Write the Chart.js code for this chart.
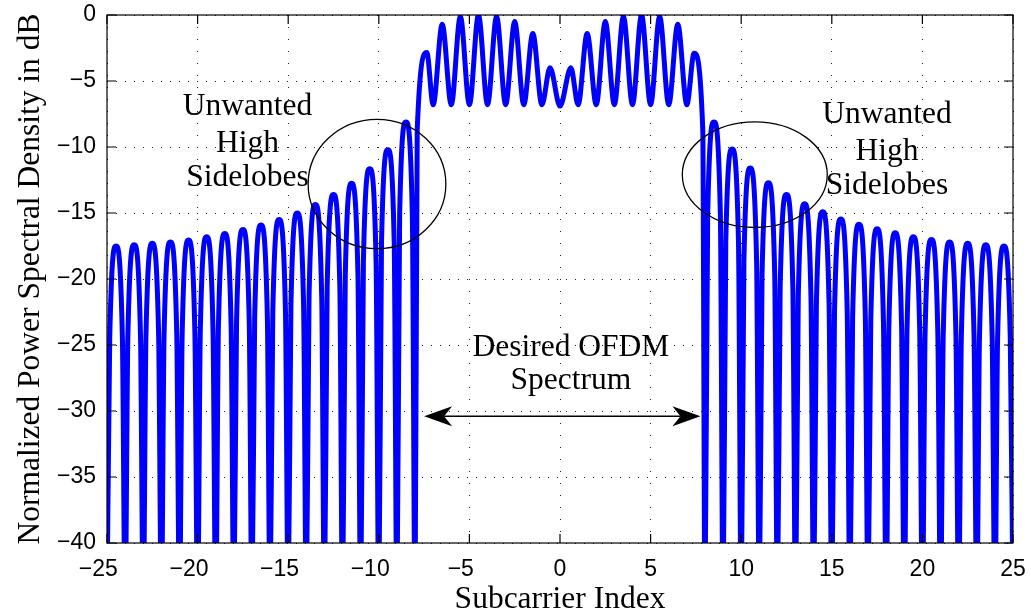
<!DOCTYPE html>
<html>
<head>
<meta charset="utf-8">
<script src="https://cdn.jsdelivr.net/npm/chart.js@4.4.1/dist/chart.umd.min.js"></script>
<style>
  html, body { margin: 0; padding: 0; background: #fff; }
  canvas { display: block; }
</style>
</head>
<body>
<canvas id="psd" width="1031" height="616"></canvas>
<script>
// axis ticks
const xTicks = [-25, -20, -15, -10, -5, 0, 5, 10, 15, 20, 25];
const yTicks = [0, -5, -10, -15, -20, -25, -30, -35, -40];

// sidelobes left of the band: a null at every integer, a peak half way
const leftNullX = [-25, -24, -23, -22, -21, -20, -19, -18, -17, -16, -15, -14, -13, -12, -11, -10, -9, -8];
const leftPeakX = [-24.5, -23.5, -22.5, -21.5, -20.5, -19.5, -18.5, -17.5, -16.5, -15.5, -14.5, -13.5, -12.5, -11.5, -10.5, -9.5, -8.5];
const leftPeakDb = [-17.5, -17.4, -17.3, -17.2, -17.05, -16.8, -16.55, -16.25, -15.9, -15.5, -15.0, -14.35, -13.6, -12.75, -11.65, -10.2, -8.1];

// the occupied band
const bandPeakX = [-7.35, -6.5, -5.5, -4.5, -3.5, -2.5, -1.5, -0.55, 0.6, 1.5, 2.5, 3.5, 4.5, 5.5, 6.5, 7.4];
const bandPeakDb = [-2.85, -0.7, -0.1, 0, -0.1, -0.5, -1.4, -4.0, -4.0, -1.4, -0.5, -0.1, 0, -0.1, -0.7, -2.9];
const bandDipX = [-7, -6, -5, -4, -3, -2, -1, 0, 1, 2, 3, 4, 5, 6, 7];
const bandDipDb = [-6.8, -6.8, -6.8, -6.8, -6.8, -6.8, -6.8, -6.9, -6.8, -6.8, -6.8, -6.8, -6.8, -6.8, -6.8];
const edgeFlankX = [-7.88, 7.88];
const edgeFlankDb = [-8.7, -8.7];

// sidelobes right of the band
const rightPeakX = [8.5, 9.5, 10.5, 11.5, 12.5, 13.5, 14.5, 15.5, 16.5, 17.5, 18.5, 19.5, 20.5, 21.5, 22.5, 23.5, 24.5];
const rightPeakDb = [-8.1, -10.15, -11.6, -12.7, -13.6, -14.3, -14.9, -15.45, -15.85, -16.2, -16.5, -16.8, -17.0, -17.2, -17.3, -17.4, -17.5];
const rightNullX = [8, 9, 10, 11, 12, 13, 14, 15, 16, 17, 18, 19, 20, 21, 22, 23, 24, 25];

const nullDb = -45;      // nulls drop off the bottom of the plot
const flankGap = 0.35;   // lobe flank: 0.35 from the peak ...
const flankDrop = 7;     // ... it is about 7 dB down

const spectrum = [];
leftNullX.concat(rightNullX).forEach(x => spectrum.push({ x: x, y: nullDb }));
leftPeakX.concat(rightPeakX).forEach((x, i) => {
  const p = leftPeakDb.concat(rightPeakDb)[i];
  spectrum.push({ x: x, y: p });
  spectrum.push({ x: x - flankGap, y: p - flankDrop });
  spectrum.push({ x: x + flankGap, y: p - flankDrop });
});
bandPeakX.forEach((x, i) => spectrum.push({ x: x, y: bandPeakDb[i] }));
bandDipX.forEach((x, i) => spectrum.push({ x: x, y: bandDipDb[i] }));
edgeFlankX.forEach((x, i) => spectrum.push({ x: x, y: edgeFlankDb[i] }));
spectrum.sort((a, b) => a.x - b.x);

// annotations, in data units
const sideEllipses = [
  { cx: -10.1, cy: -12.8, rx: 3.8, ry: 4.9 },
  { cx: 10.75, cy: -12.1, rx: 4.0, ry: 4.0 }
];
const notes = [
  { x: -17.25, y: [-7.6, -10.35, -12.95], lines: ['Unwanted', 'High', 'Sidelobes'] },
  { x: 18.05, y: [-8.2, -10.95, -13.55], lines: ['Unwanted', 'High', 'Sidelobes'] },
  { x: 0.6, y: [-25.85, -28.3], lines: ['Desired OFDM', 'Spectrum'] }
];
const bandArrow = { from: -7.5, to: 7.75, y: -30.4 };

const serif = '"Liberation Serif", "Times New Roman", serif';
const sans = '"Liberation Sans", Arial, sans-serif';

function fmtX(v) {
  return v < 0 ? '\u2212' + (-v) + '\u2002\u2005' : String(v);
}
function fmtY(v) {
  return v < 0 ? '\u2212' + (-v) : String(v);
}

function arrowHead(ctx, tipX, tipY, dir) {
  ctx.beginPath();
  ctx.moveTo(tipX, tipY);
  ctx.lineTo(tipX - dir * 28, tipY - 10);
  ctx.lineTo(tipX - dir * 20, tipY);
  ctx.lineTo(tipX - dir * 28, tipY + 10);
  ctx.closePath();
  ctx.fill();
}

const decor = {
  id: 'decor',
  afterDatasetsDraw(chart) {
    const ctx = chart.ctx;
    const a = chart.chartArea;
    const x = chart.scales.x, y = chart.scales.y;
    ctx.save();
    ctx.strokeStyle = '#000';
    ctx.fillStyle = '#000';

    // box with inward ticks
    ctx.lineWidth = 1.2;
    ctx.strokeRect(a.left, a.top, a.right - a.left, a.bottom - a.top);
    ctx.beginPath();
    xTicks.forEach(v => {
      const px = x.getPixelForValue(v);
      ctx.moveTo(px, a.bottom); ctx.lineTo(px, a.bottom - 9);
      ctx.moveTo(px, a.top); ctx.lineTo(px, a.top + 9);
    });
    yTicks.forEach(v => {
      const py = y.getPixelForValue(v);
      ctx.moveTo(a.left, py); ctx.lineTo(a.left + 9, py);
      ctx.moveTo(a.right, py); ctx.lineTo(a.right - 9, py);
    });
    ctx.stroke();

    // ellipses round the sidelobes
    ctx.lineWidth = 1.3;
    sideEllipses.forEach(e => {
      const cx = x.getPixelForValue(e.cx), cy = y.getPixelForValue(e.cy);
      const rx = Math.abs(x.getPixelForValue(e.cx + e.rx) - cx);
      const ry = Math.abs(y.getPixelForValue(e.cy + e.ry) - cy);
      ctx.beginPath();
      ctx.ellipse(cx, cy, rx, ry, 0, 0, 2 * Math.PI);
      ctx.stroke();
    });

    // double arrow across the band
    const x0 = x.getPixelForValue(bandArrow.from);
    const x1 = x.getPixelForValue(bandArrow.to);
    const ay = y.getPixelForValue(bandArrow.y);
    ctx.lineWidth = 1.5;
    ctx.beginPath();
    ctx.moveTo(x0 + 20, ay); ctx.lineTo(x1 - 20, ay);
    ctx.stroke();
    arrowHead(ctx, x0, ay, -1);
    arrowHead(ctx, x1, ay, 1);

    // text notes
    ctx.font = '31.5px ' + serif;
    ctx.textAlign = 'center';
    ctx.textBaseline = 'alphabetic';
    notes.forEach(n => {
      n.lines.forEach((t, i) => ctx.fillText(t, x.getPixelForValue(n.x), y.getPixelForValue(n.y[i])));
    });
    ctx.restore();
  }
};

new Chart(document.getElementById('psd'), {
  type: 'line',
  data: {
    datasets: [{
      data: spectrum,
      borderColor: '#0000ff',
      borderWidth: 5,
      pointRadius: 0,
      fill: false,
      cubicInterpolationMode: 'monotone',
      borderJoinStyle: 'round',
      borderCapStyle: 'round'
    }]
  },
  options: {
    responsive: false,
    animation: false,
    devicePixelRatio: 1,
    layout: { padding: { top: 15, right: 18, left: 0, bottom: 0 } },
    plugins: { legend: { display: false }, tooltip: { enabled: false } },
    scales: {
      x: {
        type: 'linear',
        min: -25,
        max: 25,
        afterBuildTicks: s => { s.ticks = xTicks.map(v => ({ value: v })); },
        afterFit: s => { s.height = 73; s.paddingLeft = 0; s.paddingRight = 0; },
        ticks: { callback: fmtX, font: { family: sans, size: 23 }, color: '#000', padding: 13, maxRotation: 0, autoSkip: false },
        grid: { color: '#222', lineWidth: 1, drawTicks: false },
        border: { display: false, dash: [1, 11] },
        title: { display: true, text: 'Subcarrier Index', color: '#000', font: { family: serif, size: 31.5, lineHeight: 1 }, padding: { top: 0, bottom: 1 } }
      },
      y: {
        min: -40,
        max: 0,
        afterBuildTicks: s => { s.ticks = yTicks.map(v => ({ value: v })); },
        afterFit: s => { s.width = 107; s.paddingTop = 0; s.paddingBottom = 0; },
        ticks: { callback: fmtY, font: { family: sans, size: 23 }, color: '#000', padding: 11, autoSkip: false },
        grid: { color: '#222', lineWidth: 1, drawTicks: false },
        border: { display: false, dash: [1, 8] },
        title: { display: true, text: 'Normalized Power Spectral Density in dB', color: '#000', font: { family: serif, size: 31.5 }, padding: { top: 12, bottom: 0 } }
      }
    }
  },
  plugins: [decor]
});
</script>
</body>
</html>
